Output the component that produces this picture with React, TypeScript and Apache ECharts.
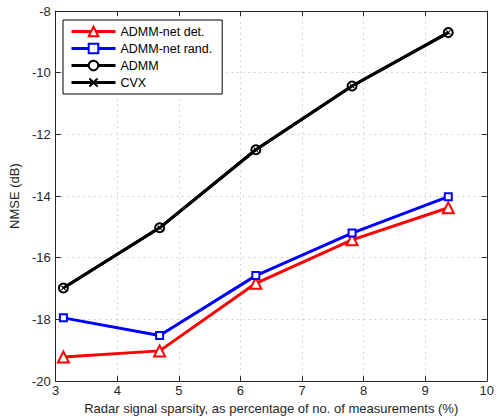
import React, { useEffect, useRef } from "react";
import * as echarts from "echarts";

const xValues = [3.125, 4.6875, 6.25, 7.8125, 9.375];
const admmNetDet = [-19.22, -19.02, -16.83, -15.42, -14.38];
const admmNetRand = [-17.95, -18.52, -16.58, -15.2, -14.02];
const admm = [-16.98, -15.03, -12.5, -10.43, -8.7];
const cvx = [-16.98, -15.03, -12.5, -10.43, -8.7];
const seriesNames = ["ADMM-net det.", "ADMM-net rand.", "ADMM", "CVX"];
const xTitle = "Radar signal sparsity, as percentage of no. of measurements (%)";
const yTitle = "NMSE (dB)";

const FONT = "'Liberation Sans', Arial, Helvetica, sans-serif";
const AX = "#262626";
const X_SYMBOL =
  "path://M0,1.5L1.5,0L5,3.5L8.5,0L10,1.5L6.5,5L10,8.5L8.5,10L5,6.5L1.5,10L0,8.5L3.5,5Z";

const pairs = (ys: number[]) => xValues.map((x, i) => [x, ys[i]]);

export default function App() {
  const ref = useRef<HTMLDivElement>(null);
  useEffect(() => {
    if (!ref.current) return;
    const chart = echarts.init(ref.current, undefined, { renderer: "svg" });
    const gridLine = {
      show: true,
      lineStyle: { color: "#c8c8c8", type: [1.5, 4] as any, width: 1 },
    };
    const axisLine = { show: true, onZero: false, lineStyle: { color: AX, width: 1 } };
    const axisTick = { show: true, inside: true, length: 5, lineStyle: { color: AX } };
    const lbl = { color: AX, fontSize: 13, fontFamily: FONT };
    chart.setOption({
      animation: false,
      backgroundColor: "#fff",
      textStyle: { fontFamily: FONT },
      grid: { left: 50, top: 11, width: 439, height: 371 },
      legend: {
        left: 63,
        top: 20,
        orient: "vertical",
        data: seriesNames,
        backgroundColor: "#fff",
        borderColor: "#000",
        borderWidth: 1,
        borderRadius: 0,
        padding: [5, 10, 5, 7],
        itemWidth: 44,
        itemHeight: 12,
        itemGap: 4,
        lineStyle: { width: 3 },
        itemStyle: { borderWidth: 3 },
        textStyle: { color: "#000", fontSize: 12.5, fontFamily: FONT },
      },
      xAxis: [
        {
          type: "value",
          min: 3,
          max: 10,
          interval: 1,
          position: "bottom",
          name: xTitle,
          nameLocation: "middle",
          nameGap: 20,
          nameTextStyle: { color: AX, fontSize: 13, fontFamily: FONT },
          axisLine,
          axisTick,
          axisLabel: { ...lbl, margin: 3 },
          splitLine: gridLine,
        },
        {
          type: "value",
          min: 3,
          max: 10,
          interval: 1,
          position: "top",
          axisLine,
          axisTick,
          axisLabel: { show: false },
          splitLine: { show: false },
        },
      ],
      yAxis: [
        {
          type: "value",
          min: -20,
          max: -8,
          interval: 2,
          position: "left",
          name: yTitle,
          nameLocation: "middle",
          nameGap: 31,
          nameTextStyle: { color: AX, fontSize: 13, fontFamily: FONT },
          axisLine,
          axisTick,
          axisLabel: { ...lbl, margin: 5 },
          splitLine: gridLine,
        },
        {
          type: "value",
          min: -20,
          max: -8,
          interval: 2,
          position: "right",
          axisLine,
          axisTick,
          axisLabel: { show: false },
          splitLine: { show: false },
        },
      ],
      series: [
        {
          name: seriesNames[0],
          type: "line",
          data: pairs(admmNetDet),
          symbol: "emptyTriangle",
          symbolSize: 11,
          lineStyle: { color: "#ff0000", width: 3 },
          itemStyle: { color: "#ff0000", borderColor: "#ff0000", borderWidth: 3 },
          z: 2,
        },
        {
          name: seriesNames[1],
          type: "line",
          data: pairs(admmNetRand),
          symbol: "emptyRect",
          symbolSize: 7,
          lineStyle: { color: "#0000ff", width: 3 },
          itemStyle: { color: "#0000ff", borderColor: "#0000ff", borderWidth: 2.5 },
          z: 3,
        },
        {
          name: seriesNames[2],
          type: "line",
          data: pairs(admm),
          symbol: "emptyCircle",
          symbolSize: 9,
          lineStyle: { color: "#000", width: 3 },
          itemStyle: { color: "#000", borderColor: "#000", borderWidth: 3 },
          z: 4,
        },
        {
          name: seriesNames[3],
          type: "line",
          data: pairs(cvx),
          symbol: X_SYMBOL,
          symbolSize: 5,
          lineStyle: { color: "#000", width: 3 },
          itemStyle: { color: "#000" },
          z: 5,
        },
      ],
    });
    return () => chart.dispose();
  }, []);
  return (
    <div
      ref={ref}
      style={{ position: "fixed", left: 0, top: 0, width: 497, height: 420 }}
    />
  );
}
